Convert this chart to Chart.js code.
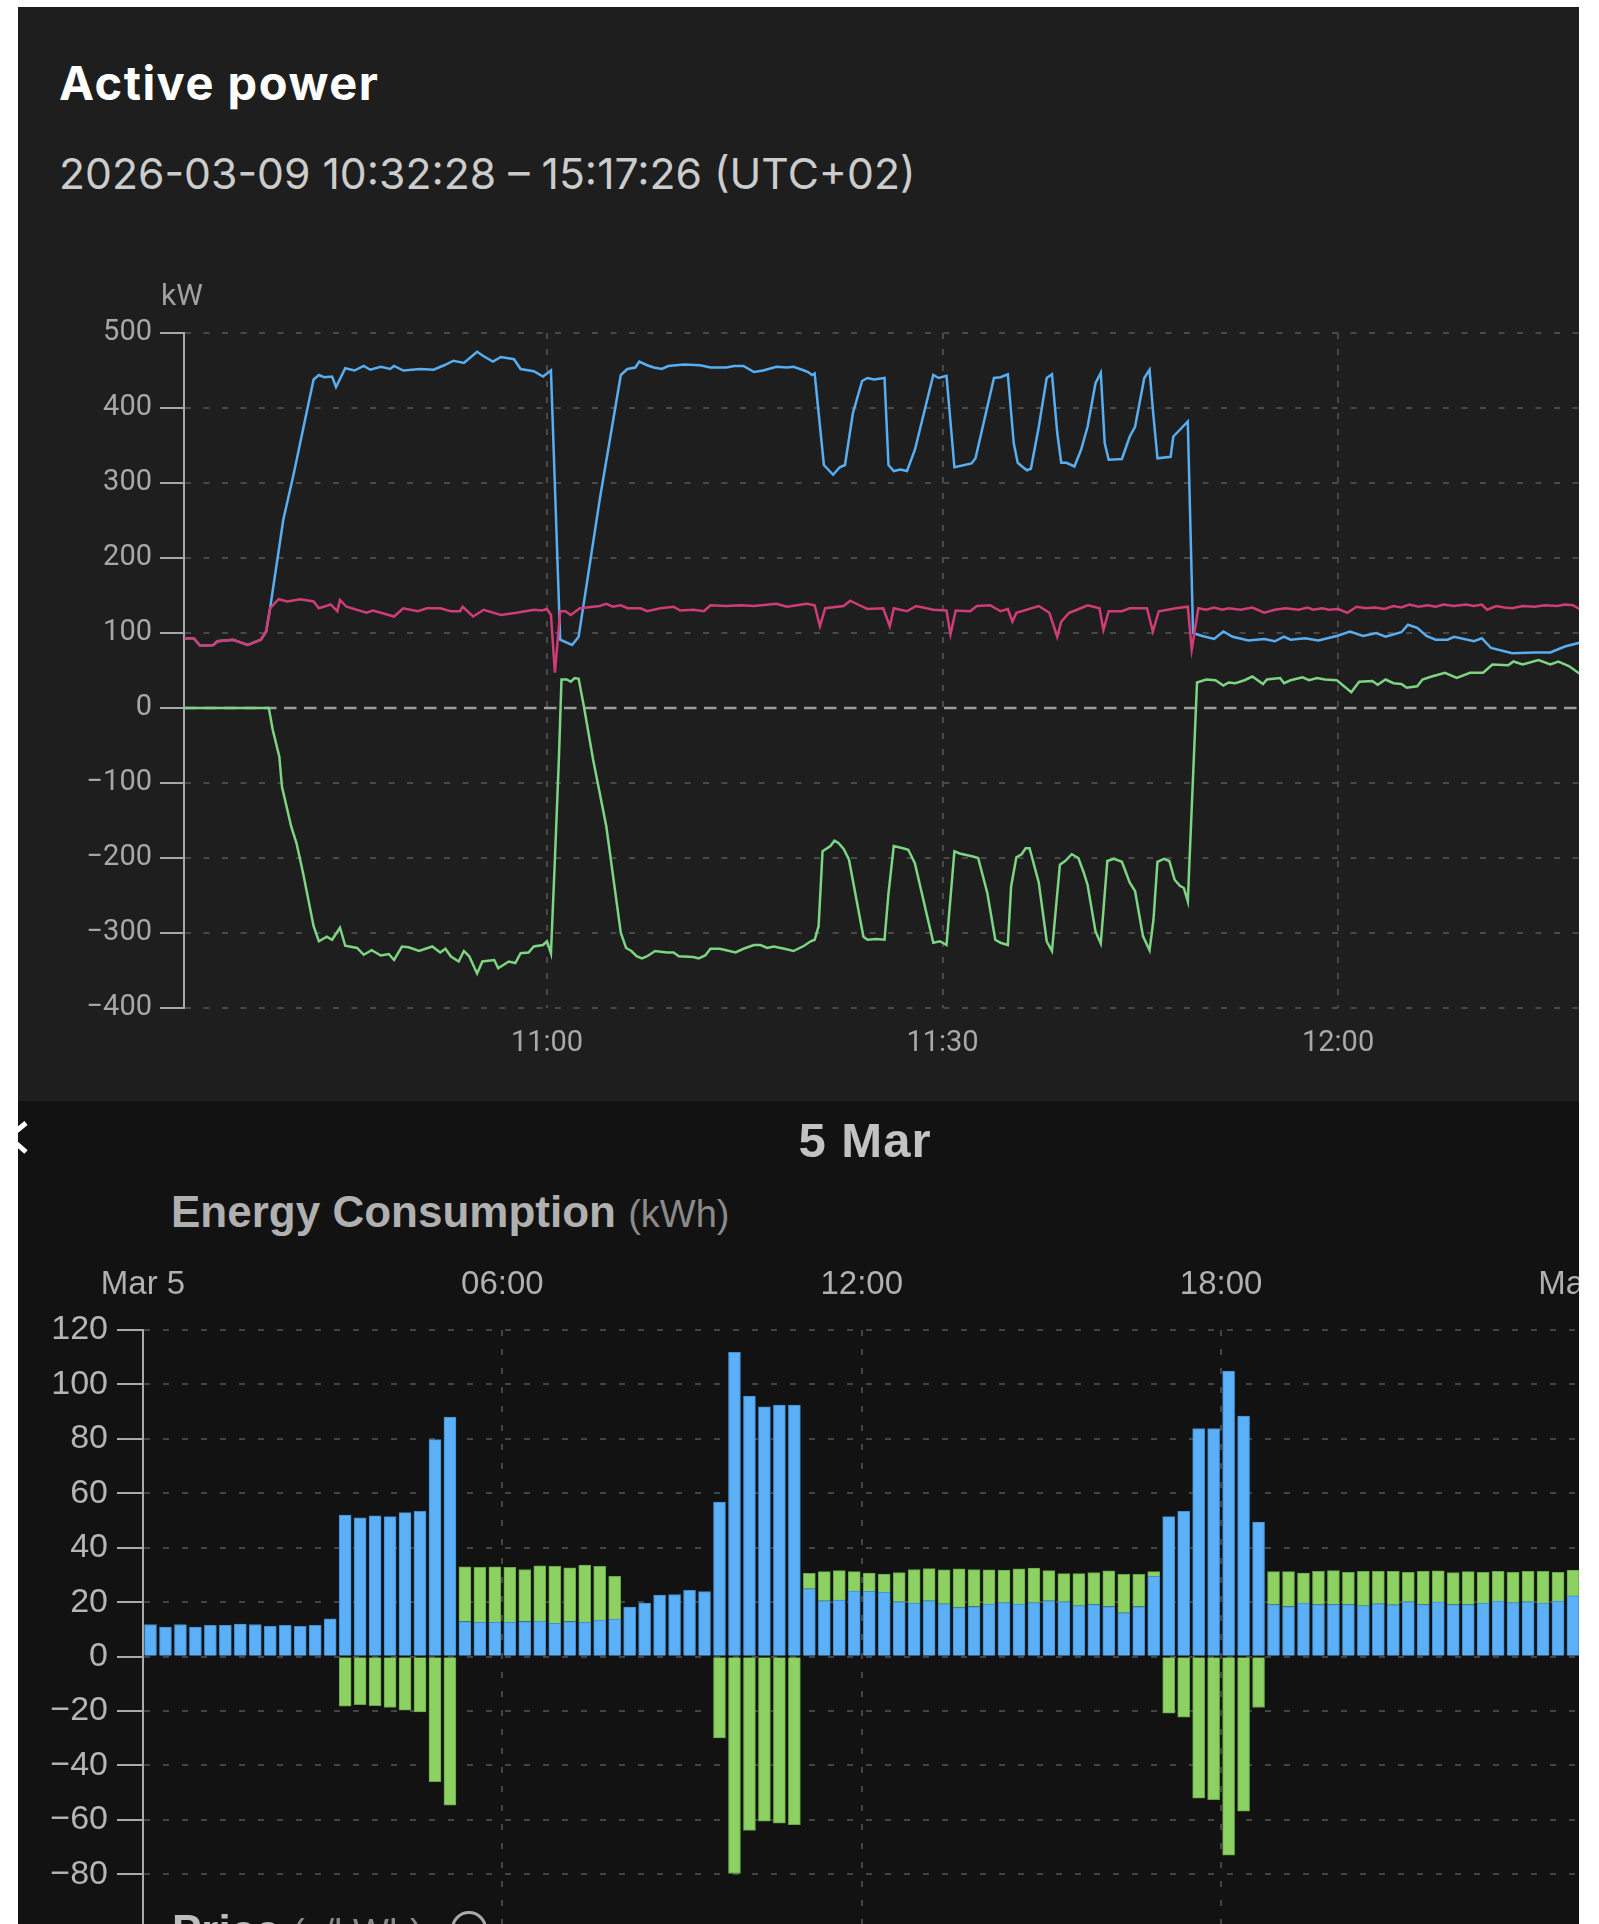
<!DOCTYPE html>
<html>
<head>
<meta charset="utf-8">
<script src="https://cdn.jsdelivr.net/npm/chart.js@4.4.1/dist/chart.umd.min.js"></script>
<style>
html,body{margin:0;padding:0;background:#fff;}
body{width:1599px;height:1924px;overflow:hidden;position:relative;font-family:'Liberation Sans',Arial,sans-serif;}
.panel{position:absolute;left:18px;width:1561px;z-index:0;}
#topPanel{top:7px;height:1094px;background:#1e1e1e;}
#botPanel{top:1101px;height:823px;background:#121212;}
.strip{position:absolute;background:#fff;z-index:10;}
canvas{position:absolute;left:0;z-index:1;}
.txt{position:absolute;white-space:nowrap;line-height:1;z-index:2;}
#title{left:59px;top:59px;font-family:Inter,sans-serif;font-weight:700;font-size:47px;letter-spacing:1.5px;color:#fff;}
#subtitle{left:59px;top:153px;font-family:Inter,sans-serif;font-size:42.7px;color:#cccccc;}
#unit{left:161px;top:280px;font-family:Roboto,sans-serif;font-size:30px;color:#a0a0a0;}
#day{left:865px;top:1116px;transform:translateX(-50%);font-weight:700;font-size:49px;letter-spacing:1px;color:#c2c2c2;}
#energyTitle{left:171px;top:1190px;font-weight:700;font-size:44px;color:#b0b0b0;}
#energyTitle span,#priceTitle span{font-weight:400;font-size:38px;color:#8a8a8a;}
#priceTitle{left:172px;top:1909px;font-weight:700;font-size:44px;color:#bdbdbd;}
#priceTitle i{display:inline-block;width:30px;height:30px;border:3px solid #aaa;border-radius:50%;margin-left:28px;vertical-align:top;margin-top:2px;}
#chev{position:absolute;left:0;top:1110px;z-index:2;}
</style>
</head>
<body>
<div class="panel" id="topPanel"></div>
<div class="panel" id="botPanel"></div>

<div class="txt" id="title">Active power</div>
<div class="txt" id="subtitle">2026-03-09 10:32:28 – 15:17:26 (UTC+02)</div>
<div class="txt" id="unit">kW</div>
<canvas id="powerChart" width="1579" height="788" style="top:300px;width:1579px;height:788px;"></canvas>

<svg id="chev" width="40" height="60"><polyline points="26,13 9,27 26,42" fill="none" stroke="#fff" stroke-width="5"/></svg>
<div class="txt" id="day">5 Mar</div>
<div class="txt" id="energyTitle">Energy Consumption <span>(kWh)</span></div>
<canvas id="energyChart" width="1660" height="740" style="top:1240px;width:1660px;height:740px;"></canvas>
<div class="txt" id="priceTitle">Price <span>(c/kWh)</span><i></i></div>

<div class="strip" style="left:0;top:0;width:18px;height:1924px;"></div>
<div class="strip" style="left:1579px;top:0;width:20px;height:1924px;"></div>
<div class="strip" style="left:0;top:0;width:1599px;height:7px;"></div>

<script>
// active power, [minutes after 10:00, kW]
const gridSeries = [[32.5,93],[33.2,93],[33.7,83],[34.7,84],[35.0,89],[36.2,91],[37.3,84],[38.3,91],[38.7,102],[39.0,133],[39.65,145],[40.3,142],[41.3,145],[42.3,142],[42.7,133],[43.6,138],[44.1,129],[44.3,144],[44.8,135],[46.3,127],[46.8,130],[47.4,127],[48.4,122],[49.1,133],[50.2,129],[50.9,133],[51.9,133],[52.7,129],[53.4,129],[53.6,135],[54.4,122],[55.2,131],[56.5,124],[57.7,127],[59.0,131],[59.6,130],[60.0,132],[60.3,124],[60.6,47],[61.0,129],[61.4,129],[61.8,124],[62.5,133],[64.0,136],[64.5,139],[65.0,135],[65.6,137],[66.1,133],[67.1,133],[67.6,129],[68.6,133],[69.6,135],[70.1,130],[71.1,131],[71.9,129],[72.4,137],[73.6,136],[74.7,137],[75.7,136],[77.4,139],[78.2,135],[79.7,139],[80.3,137],[80.7,109],[81.1,133],[82.5,136],[83.0,143],[83.7,137],[84.3,132],[85.5,133],[86.0,109],[86.3,133],[87.3,129],[88.0,136],[89.3,131],[90.3,130],[90.6,98],[91.0,130],[92.1,129],[92.6,136],[93.6,137],[94.4,129],[94.95,132],[95.3,115],[95.6,127],[97.3,136],[98.1,127],[98.7,95],[99.0,115],[99.6,127],[100.2,131],[101.0,137],[101.9,133],[102.2,104],[102.6,129],[103.6,129],[104.2,133],[105.5,133],[105.95,102],[106.4,129],[107.7,133],[108.6,135],[108.9,78],[109.4,133],[110.0,131],[110.6,134],[111.2,131],[111.7,133],[112.6,131],[113.5,134],[114.4,127],[115.2,131],[116.0,133],[117.0,131],[117.7,134],[118.1,131],[118.8,133],[119.3,131],[120.0,132],[120.7,127],[121.4,135],[122.1,133],[122.8,134],[123.5,132],[124.2,136],[124.8,134],[125.4,138],[126.1,135],[126.8,137],[127.4,135],[128.0,138],[128.8,136],[129.7,138],[130.3,136],[130.9,138],[131.3,131],[132.0,136],[132.6,134],[133.2,133],[134.0,136],[134.9,135],[135.7,137],[136.6,136],[137.2,138],[137.8,137],[138.3,132]];

const loadSeries = [[32.5,93],[33.2,93],[33.7,83],[34.7,84],[35.0,89],[36.2,91],[37.3,84],[38.3,91],[38.7,102],[39.0,133],[40.0,251],[40.8,313],[41.6,380],[42.3,438],[42.7,444],[43.1,441],[43.7,442],[44.0,428],[44.7,453],[45.4,450],[46.1,456],[46.6,451],[47.4,455],[48.1,452],[48.4,456],[49.1,450],[50.4,452],[51.4,451],[52.2,457],[52.9,463],[53.7,460],[54.7,475],[55.2,469],[55.9,462],[56.5,468],[57.5,465],[58.0,452],[59.0,449],[59.7,442],[60.3,450],[61.0,91],[61.9,84],[62.4,95],[64.0,278],[65.6,444],[66.1,452],[66.7,454],[67.0,462],[67.6,457],[68.1,454],[68.7,452],[69.2,456],[70.4,458],[71.6,457],[72.4,454],[73.6,454],[74.2,456],[74.9,456],[75.7,448],[76.4,450],[77.4,455],[78.2,454],[78.7,455],[79.5,450],[79.8,448],[80.1,444],[80.3,446],[81.0,324],[81.7,311],[82.2,321],[82.6,324],[83.2,393],[83.9,436],[84.3,440],[84.8,438],[85.6,440],[85.9,324],[86.3,316],[86.8,318],[87.3,316],[87.9,344],[89.3,444],[89.7,440],[90.3,443],[90.9,321],[92.2,326],[92.5,333],[93.9,440],[94.4,441],[94.95,445],[95.4,353],[95.7,327],[96.1,321],[96.4,317],[96.7,319],[97.3,375],[97.9,440],[98.3,445],[98.7,367],[99.0,327],[99.4,327],[100.0,322],[100.5,344],[101.0,375],[101.6,433],[102.0,447],[102.3,353],[102.6,331],[103.6,332],[104.2,362],[104.6,375],[105.3,440],[105.7,451],[105.95,398],[106.3,333],[107.3,335],[107.5,362],[108.0,371],[108.6,382],[109.0,100],[109.7,96],[110.6,92],[111.3,102],[112.0,95],[113.2,90],[114.4,92],[115.2,89],[115.9,95],[116.4,91],[117.5,93],[118.5,90],[119.9,96],[120.9,102],[121.9,96],[122.9,100],[123.6,95],[124.8,101],[125.3,111],[126.0,107],[126.7,96],[127.4,91],[128.3,91],[128.8,95],[130.3,89],[130.9,93],[131.6,80],[133.2,73],[134.9,74],[136.1,74],[137.2,82],[138.3,87]];

const batterySeries = [[32.5,0],[38.9,0],[39.2,-29],[39.7,-65],[39.9,-105],[40.6,-158],[41.0,-180],[41.5,-220],[42.3,-291],[42.7,-311],[43.3,-305],[43.7,-309],[44.3,-293],[44.7,-317],[45.6,-320],[46.1,-329],[46.7,-323],[47.4,-330],[48.0,-328],[48.4,-336],[49.0,-318],[49.5,-319],[50.3,-324],[51.3,-318],[51.9,-326],[52.3,-321],[52.7,-331],[53.3,-338],[53.7,-324],[54.1,-331],[54.7,-354],[55.1,-338],[56.0,-336],[56.3,-347],[57.1,-338],[57.6,-340],[58.0,-327],[58.6,-326],[59.0,-318],[59.7,-316],[60.0,-311],[60.3,-327],[60.6,-202],[60.9,-69],[61.1,38],[61.5,38],[61.8,35],[62.1,40],[62.4,39],[62.8,2],[63.5,-69],[64.5,-158],[65.6,-300],[66.0,-320],[66.4,-324],[66.8,-331],[67.2,-334],[67.6,-331],[68.2,-324],[69.1,-326],[69.6,-326],[70.0,-331],[71.1,-332],[71.5,-334],[72.0,-330],[72.4,-321],[73.1,-321],[73.6,-323],[74.3,-326],[74.9,-321],[75.7,-316],[76.2,-316],[76.7,-320],[77.2,-318],[78.0,-321],[78.7,-324],[79.5,-317],[80.0,-311],[80.3,-309],[80.6,-291],[80.9,-191],[81.5,-184],[81.8,-177],[82.1,-180],[82.5,-188],[82.9,-202],[84.0,-305],[84.3,-309],[85.0,-308],[85.6,-309],[85.9,-247],[86.3,-184],[87.0,-187],[87.4,-189],[87.9,-207],[89.3,-313],[89.8,-311],[90.3,-316],[90.9,-191],[91.3,-194],[92.3,-198],[92.7,-200],[93.4,-247],[94.0,-309],[94.4,-313],[94.95,-316],[95.2,-238],[95.6,-199],[96.0,-195],[96.3,-187],[96.6,-187],[97.3,-233],[97.9,-311],[98.3,-324],[98.9,-209],[99.3,-204],[99.8,-195],[100.3,-200],[100.7,-219],[101.0,-236],[101.6,-298],[102.0,-314],[102.5,-204],[103.0,-201],[103.6,-205],[104.2,-233],[104.6,-244],[105.2,-304],[105.7,-323],[106.0,-282],[106.3,-205],[106.8,-201],[107.2,-204],[107.6,-229],[108.0,-237],[108.3,-240],[108.6,-258],[109.3,34],[110.0,38],[110.7,37],[111.3,30],[111.7,34],[112.2,33],[112.9,37],[113.5,42],[114.3,32],[114.6,38],[115.6,40],[115.9,33],[116.4,37],[117.3,41],[117.8,37],[118.4,40],[119.0,38],[119.9,37],[121.0,21],[121.6,35],[122.6,36],[123.0,31],[123.6,38],[124.2,33],[124.8,32],[125.2,27],[126.0,29],[126.4,38],[127.1,42],[128.1,47],[129.0,40],[130.0,47],[131.0,47],[131.7,58],[132.9,57],[133.3,62],[134.0,58],[135.2,64],[136.1,58],[136.7,62],[137.5,56],[138.3,46]];

const powerTicks = [60, 90, 120];

// energy, 15 minute slots of 5 Mar (kWh)
const consumptionKwh = [11.8,10.8,11.8,10.8,11.5,11.5,11.9,11.8,11.1,11.5,11.1,11.5,13.9,
  52,51,51.7,51.4,52.9,53.4,79.7,88,
  12.9,12.6,12.6,12.6,12.9,13,12.2,12.9,12.6,13.4,13.8,
  18.2,19.7,22.6,22.8,24.3,23.9,
  56.8,111.8,95.7,91.8,92.4,92.4,
  24.9,20.5,20.8,24.1,24,23.7,20.1,19.7,20.5,19.4,18,18.4,19.3,19.8,19.3,19.8,20.5,20.1,18.7,19.1,18.4,16.1,18.4,29.5,
  51.4,53.4,83.8,83.8,104.9,88.4,49.4,
  19.1,18.4,19.7,19.1,19.1,19.1,18.7,19.4,19,20.1,19.1,20,19.1,19.1,19.7,20.4,19.8,20.1,19.7,20.4,22.3];
const batteryKwh = [null,null,null,null,null,null,null,null,null,null,null,null,null,
  -18.2,-17.7,-18,-18.7,-19.7,-20.3,-46,-54.6,
  20.1,20.2,20.4,20.2,19.1,20.3,21,19.7,21,19.8,15.7,
  null,null,null,null,null,null,
  -29.9,-79.7,-63.9,-60.5,-61.2,-61.8,
  5.7,10.7,10.8,7.1,6.7,6.6,10.8,12.3,11.8,12.5,14.2,13.6,12.6,12,12.9,12.7,11.1,10.4,11.8,11.8,13.1,14.1,11.8,1.7,
  -20.8,-22.3,-52,-52.6,-73,-56.8,-18.7,
  12.1,12.8,11,12.2,12.5,11.9,12.6,11.9,12.3,10.9,12.2,11.5,11.8,12.1,11.3,10.9,11.2,11.2,11.6,10.6,9.5];
const dayTicks = [0, 6, 12, 18, 24];
const dayNames = ['Mar 5', 'Mar 6'];

function pad(n){ return (n < 10 ? '0' : '') + n; }
function clock(v){
	let total = Math.round(600 + v);
	return pad(Math.floor(total / 60)) + ':' + pad(total % 60);
}
function minus(v){ return String(v).replace('-', '\u2212'); }
function toPoints(series){ return series.map(p => ({x: p[0], y: p[1]})); }
function slotPoints(values){ return values.map((v, i) => ({x: i * 0.25 + 0.125, y: v})); }

const zeroLine = {
	id: 'zeroLine',
	beforeDatasetsDraw(chart){
		const ctx = chart.ctx, a = chart.chartArea;
		const py = chart.scales.y.getPixelForValue(0);
		ctx.save();
		ctx.strokeStyle = '#9c9c9c';
		ctx.lineWidth = 2.5;
		ctx.setLineDash([12.5, 7.5]);
		ctx.beginPath();
		ctx.moveTo(a.left, py);
		ctx.lineTo(a.right, py);
		ctx.stroke();
		ctx.restore();
	}
};

let G1 = new Chart(document.getElementById('powerChart'), {
	type: 'line',
	data: {
		datasets: [
			{label: 'grid', data: toPoints(gridSeries), borderColor: '#d03c76'},
			{label: 'load', data: toPoints(loadSeries), borderColor: '#58aef2'},
			{label: 'battery', data: toPoints(batterySeries), borderColor: '#7dd483'}
		]
	},
	options: {
		responsive: false,
		animation: false,
		layout: {padding: {top: 33, left: 0, right: 0, bottom: 0}},
		elements: {point: {radius: 0}, line: {borderWidth: 2.5, tension: 0}},
		plugins: {legend: {display: false}, tooltip: {enabled: false}},
		scales: {
			x: {
				type: 'linear', min: 32.47, max: 138.27,
				afterBuildTicks: s => { s.ticks = powerTicks.map(v => ({value: v})); },
				afterFit: s => { s.height = 80; },
				grid: {color: '#484848', lineWidth: 2, drawTicks: false},
				border: {display: false, dash: [6, 10]},
				ticks: {color: '#a8a8a8', font: {family: 'Roboto', size: 29}, padding: 18.5, maxRotation: 0, autoSkip: false, callback: v => clock(v)}
			},
			y: {
				min: -400, max: 500,
				afterFit: s => { s.width = 184; },
				ticks: {stepSize: 100, color: '#a8a8a8', font: {family: 'Roboto', size: 29}, padding: 8, callback: v => minus(v)},
				grid: {color: c => (c.tick && c.tick.value === 0) ? 'rgba(0,0,0,0)' : '#484848', lineWidth: 2, tickLength: 24, tickColor: '#a8a8a8', tickWidth: 2, tickBorderDash: []},
				border: {display: true, color: '#a8a8a8', width: 2, dash: [6, 12.5]}
			}
		}
	},
	plugins: [zeroLine]
});

let G2 = new Chart(document.getElementById('energyChart'), {
	type: 'bar',
	data: {
		datasets: [
			{label: 'consumption', data: slotPoints(consumptionKwh), backgroundColor: '#5cb0f7', borderColor: '#3f8ed2', borderWidth: 1},
			{label: 'battery', data: slotPoints(batteryKwh), backgroundColor: '#8dd163', borderColor: '#67a845', borderWidth: 1}
		]
	},
	options: {
		responsive: false,
		animation: false,
		layout: {padding: {top: 0, right: 79.5, bottom: 54, left: 0}},
		datasets: {bar: {barThickness: 12}},
		plugins: {legend: {display: false}, tooltip: {enabled: false}},
		scales: {
			x: {
				type: 'linear', position: 'top', min: 0, max: 24, stacked: true, offset: false,
				afterBuildTicks: s => { s.ticks = dayTicks.map(v => ({value: v})); },
				afterFit: s => { s.height = 90; },
				grid: {color: '#444444', lineWidth: 2, drawTicks: false, offset: false},
				border: {display: false, dash: [6, 13]},
				ticks: {color: '#b0b0b0', font: {family: "'Liberation Sans', Arial", size: 33}, padding: 25.5, maxRotation: 0, autoSkip: false,
					callback: v => v === 0 ? dayNames[0] : (v === 24 ? dayNames[1] : pad(v) + ':00')}
			},
			y: {
				stacked: true, min: -99, max: 120,
				afterFit: s => { s.width = 143; },
				ticks: {stepSize: 20, includeBounds: false, color: '#b5b5b5', font: {family: "'Liberation Sans', Arial", size: 34}, padding: 9, callback: v => minus(v)},
				grid: {color: '#444444', lineWidth: 2, tickLength: 26, tickColor: '#aaaaaa', tickWidth: 2, tickBorderDash: []},
				border: {display: true, color: '#aaaaaa', width: 2, dash: [6, 13]}
			}
		}
	}
});
</script>
</body>
</html>
